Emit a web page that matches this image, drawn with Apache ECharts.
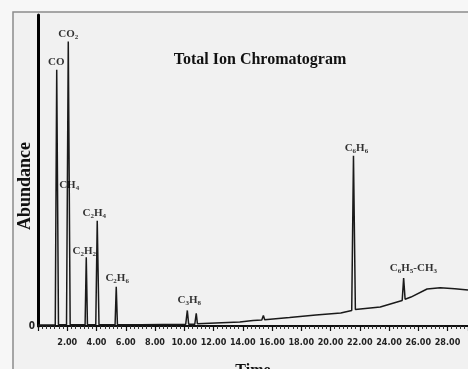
<!DOCTYPE html>
<html>
<head>
<meta charset="utf-8">
<script src="https://cdn.jsdelivr.net/npm/echarts@6/dist/echarts.min.js"></script>
<style>
html,body{margin:0;padding:0;background:#f7f7f7;}
#chart{width:468px;height:369px;}
</style>
</head>
<body>
<div id="chart"></div>
<script>
// Retention time (min) and abundance (relative, 0-100)
const times = [0, 1.18, 1.28, 1.40, 1.95, 2.07, 2.20, 3.22, 3.30, 3.38, 3.95, 4.05, 4.17, 5.27, 5.35, 5.43,
  7.0, 10.10, 10.21, 10.30, 10.72, 10.82, 10.90, 13.8, 14.7, 14.8, 15.30, 15.41, 15.50, 17.2, 19.0, 20.7,
  21.45, 21.57, 21.70, 23.4, 24.90, 25.00, 25.10, 25.5, 26.6, 27.5, 28.5, 29.4];
const abundance = [0.3, 0.3, 82.4, 0.4, 0.4, 91.5, 0.4, 0.4, 22.1, 0.4, 0.4, 33.8, 0.4, 0.4, 12.6, 0.4,
  0.4, 0.6, 5.0, 0.6, 0.6, 4.1, 0.7, 1.3, 1.8, 2.3, 1.9, 3.4, 2.0, 2.7, 3.5, 4.2,
  5.0, 54.7, 5.3, 6.1, 8.2, 15.4, 8.6, 9.3, 11.9, 12.3, 12.0, 11.6];

// Peak labels: rich-text name, time and height of the label centre
const peakNames = ['CO', 'CO{s|2}', 'CH{s|4}', 'C{s|2}H{s|4}', 'C{s|2}H{s|2}', 'C{s|2}H{s|6}', 'C{s|3}H{s|8}', 'C{s|6}H{s|6}', 'C{s|6}H{s|5}-CH{s|3}'];
const peakLabelTimes = [1.25, 2.07, 2.13, 3.85, 3.16, 5.41, 10.34, 21.77, 25.67];
const peakLabelHeights = [84.9, 93.7, 45.2, 36.3, 24.0, 15.5, 8.2, 57.3, 18.7];

const xTickInterval = 2;

const chart = echarts.init(document.getElementById('chart'), null, {renderer: 'canvas'});
const serif = "'Liberation Serif', 'Times New Roman', serif";
const narrow = "'Liberation Sans Narrow', 'DejaVu Sans Condensed', 'Liberation Sans', sans-serif";

chart.setOption({
  animation: false,
  backgroundColor: '#f7f7f7',
  title: {
    text: 'Total Ion Chromatogram',
    left: 255, top: 47, textAlign: 'center',
    textStyle: {fontFamily: serif, fontWeight: 'bold', fontSize: 16, color: '#111'}
  },
  graphic: [
    {type: 'rect', z: -10, shape: {x: 13, y: 12, width: 470, height: 370},
      style: {fill: '#f1f1f1', stroke: '#8c8c8c', lineWidth: 1.5}},
    {type: 'text', x: 25, y: 186, rotation: Math.PI / 2,
      style: {text: 'Abundance', font: "bold 18px 'Liberation Serif', serif", fill: '#111', align: 'center', verticalAlign: 'middle'}}
  ],
  grid: {left: 38, right: 0, top: 15, bottom: 43, containLabel: false, outerBoundsMode: 'none'},
  xAxis: {
    type: 'value', min: 0, max: 29.4, interval: xTickInterval,
    name: 'Time', nameLocation: 'middle', nameGap: 37,
    nameTextStyle: {fontFamily: serif, fontWeight: 'bold', fontSize: 16, color: '#111'},
    axisLine: {lineStyle: {color: '#111', width: 2}},
    axisTick: {show: true, length: 5, lineStyle: {color: '#111', width: 1.2}},
    minorTick: {show: true, splitNumber: 7, length: 3, lineStyle: {color: '#333', width: 1}},
    axisLabel: {formatter: v => v === 0 ? '' : v.toFixed(2), margin: 12, fontSize: 9, fontWeight: 'bold',
      fontFamily: narrow, color: '#222', showMaxLabel: false},
    splitLine: {show: false}
  },
  yAxis: {
    type: 'value', min: 0, max: 100, interval: 100,
    axisLine: {show: true, lineStyle: {color: '#000', width: 3}},
    axisTick: {show: false},
    axisLabel: {formatter: v => v === 0 ? '0' : '', margin: 3, fontSize: 10, fontWeight: 'bold', fontFamily: narrow, color: '#222'},
    splitLine: {show: false}
  },
  series: [
    {
      type: 'line', symbol: 'none', silent: true,
      data: times.map((t, i) => [t, abundance[i]]),
      lineStyle: {color: '#1a1a1a', width: 1.5},
      z: 3
    },
    {
      type: 'scatter', symbolSize: 0, silent: true,
      data: peakLabelTimes.map((t, i) => ({value: [t, peakLabelHeights[i]], name: peakNames[i]})),
      label: {
        show: true, position: 'inside',
        formatter: p => p.name,
        fontFamily: serif, fontWeight: 'bold', fontSize: 11, color: '#000', lineHeight: 13,
        rich: {
          s: {fontFamily: serif, fontWeight: 'bold', fontSize: 7, color: '#000', lineHeight: 6, verticalAlign: 'bottom'}
        }
      },
      z: 5
    }
  ]
});
</script>
</body>
</html>
